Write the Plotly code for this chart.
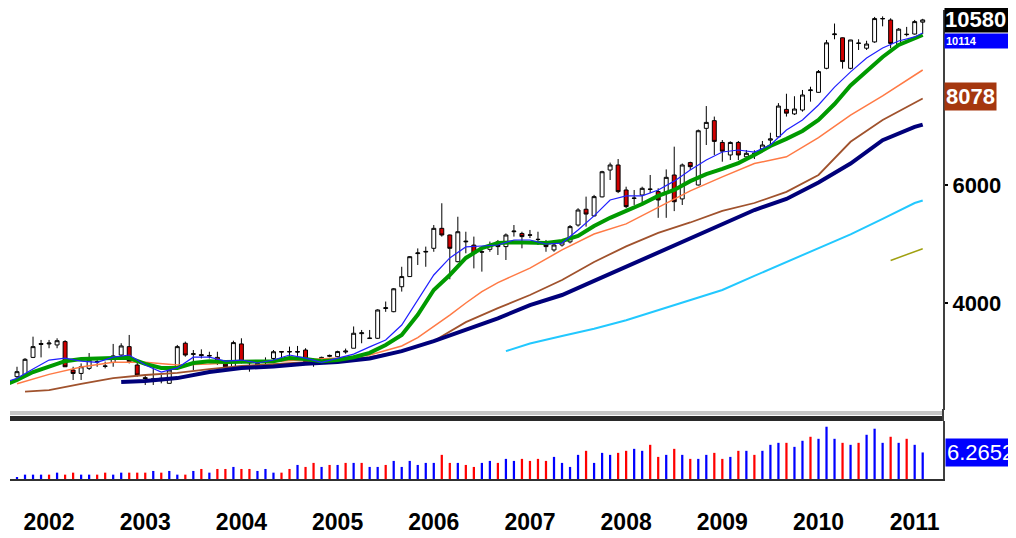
import math
import plotly.graph_objects as go

# ---------------- data ----------------
# monthly candles, index 0 = Sep 2001 ... 113 = Feb 2011
idx = list(range(114))
opens = [3105, 3123, 3318, 3480, 3475, 3463, 3503, 3177, 3140, 3195,
         3265, 3222, 3260, 3345, 3443, 3232, 3095, 3082, 3088, 3035,
         3206, 3483, 3352, 3350, 3340, 3318, 3243, 3213, 3475, 3262,
         3250, 3268, 3306, 3385, 3380, 3385, 3403, 3268, 3280, 3330,
         3326, 3380, 3424, 3600, 3540, 3543, 3925, 3882, 4230, 4380,
         4740, 4765, 4827, 5170, 5053, 4610, 4935, 4880, 4770, 4810,
         4935, 4855, 5110, 5080, 5055, 4980, 4935, 4800, 4882, 4935,
         5229, 5520, 5395, 5760, 6317, 6427, 5898, 5730, 5797, 5910,
         5865, 5845, 6210, 5720, 6480, 6000, 7290, 7485, 6945, 6652,
         6945, 6610, 6680, 6790, 7000, 7080, 7780, 7660, 7764, 8300,
         8250, 8960, 10060, 9950, 8960, 9760, 9600, 9810, 10620, 10578,
         9707, 10060, 10080, 10500]
highs = [3213, 3310, 3563, 3523, 3523, 3543, 3520, 3213, 3250, 3368,
         3306, 3270, 3475, 3483, 3584, 3288, 3123, 3213, 3123, 3195,
         3463, 3503, 3403, 3411, 3383, 3383, 3270, 3514, 3543, 3288,
         3270, 3318, 3403, 3385, 3443, 3451, 3424, 3306, 3326, 3350,
         3395, 3420, 3690, 3646, 3646, 3915, 4020, 4210, 4530, 4700,
         4825, 4855, 5229, 5635, 5060, 5380, 5110, 5025, 4855, 4940,
         4967, 5080, 5229, 5110, 5141, 5110, 4967, 4910, 4967, 5229,
         5540, 5765, 5800, 6300, 6480, 6560, 5965, 5898, 5965, 6210,
         5932, 6330, 6845, 6460, 6500, 7260, 7870, 7590, 7003, 6970,
         6980, 6767, 6760, 6980, 7180, 7950, 8210, 8140, 8317, 8410,
         8908, 9876, 10450, 9960, 9880, 9900, 9850, 10690, 10710, 10640,
         10290, 10330, 10580, 10620]
lows = [3088, 3115, 3310, 3318, 3424, 3424, 3213, 3070, 3070, 3177,
        3213, 3195, 3213, 3335, 3250, 3105, 3018, 3018, 3035, 3035,
        3195, 3326, 3177, 3306, 3306, 3232, 3195, 3195, 3250, 3159,
        3213, 3232, 3288, 3270, 3318, 3335, 3250, 3213, 3270, 3320,
        3320, 3360, 3424, 3483, 3535, 3535, 3880, 3875, 4160, 4375,
        4558, 4530, 4770, 5025, 4340, 4600, 4745, 4505, 4455, 4770,
        4717, 4637, 5025, 4827, 5000, 4882, 4770, 4770, 4855, 4910,
        5200, 5200, 5390, 5750, 6104, 5835, 5540, 5602, 5635, 5835,
        5360, 5360, 5485, 5602, 6317, 5990, 6884, 6652, 6500, 6538,
        6538, 6560, 6560, 6720, 6884, 7060, 7590, 7631, 7720, 7990,
        8240, 8930, 9900, 8950, 8930, 9542, 9542, 9780, 10350, 9600,
        9690, 10000, 10060, 10080]
closes = [3159, 3296, 3443, 3470, 3485, 3514, 3213, 3140, 3213, 3288,
          3270, 3218, 3335, 3451, 3270, 3123, 3085, 3077, 3063, 3177,
          3443, 3345, 3360, 3340, 3335, 3250, 3213, 3491, 3270, 3258,
          3222, 3272, 3383, 3380, 3385, 3380, 3270, 3262, 3318, 3340,
          3385, 3390, 3605, 3610, 3545, 3905, 3935, 4200, 4380, 4690,
          4750, 4775, 5170, 5053, 4827, 5110, 4945, 4745, 4765, 4880,
          4855, 5053, 5120, 5025, 5050, 4975, 4855, 4882, 4935, 5200,
          5506, 5430, 5765, 6280, 6427, 5865, 5570, 5735, 5932, 5915,
          5699, 6160, 5665, 6427, 6390, 7230, 7440, 6970, 6740, 6945,
          6652, 6690, 6690, 6884, 7030, 7870, 7680, 7790, 8175, 8317,
          8860, 9780, 10080, 9170, 9876, 9770, 9740, 10630, 10630, 9760,
          10250, 10070, 10520, 10580]

volume = [0.47, 1.03, 1.03, 1.03, 1.03, 1.50, 1.03, 1.50, 1.03, 1.03,
          1.03, 1.50, 1.03, 1.50, 1.50, 1.50, 1.50, 1.90, 1.50, 1.90,
          1.03, 1.03, 1.90, 2.37, 1.50, 2.37, 2.37, 2.85, 2.37, 2.37,
          1.90, 2.37, 1.50, 1.50, 2.37, 3.32, 2.85, 3.80, 2.85, 3.32,
          3.32, 3.80, 3.80, 3.80, 2.85, 2.85, 3.32, 4.27, 2.85, 4.27,
          3.32, 3.80, 3.80, 5.70, 3.80, 3.80, 3.32, 2.85, 3.80, 4.27,
          3.80, 4.75, 4.27, 4.75, 4.27, 4.75, 4.27, 5.22, 3.80, 2.85,
          5.70, 6.65, 3.80, 6.17, 5.70, 6.17, 6.65, 7.12, 6.65, 8.07,
          5.22, 5.70, 7.12, 5.70, 4.75, 4.75, 5.70, 6.17, 4.75, 5.22,
          6.65, 6.65, 5.70, 6.65, 8.07, 8.54, 8.54, 7.59, 9.02, 9.97,
          9.49, 12.34, 9.49, 8.54, 8.07, 8.54, 10.44, 11.87, 8.54, 9.97,
          8.54, 9.49, 8.07, 6.2652]
# 1 = blue bar, 0 = red bar
vol_dir = [1, 1, 1, 1, 0, 1, 0, 0, 1, 1,
           0, 0, 1, 1, 0, 0, 0, 1, 0, 1,
           1, 0, 1, 0, 1, 0, 0, 1, 0, 0,
           1, 1, 1, 0, 0, 1, 0, 0, 1, 0,
           1, 0, 1, 0, 1, 1, 0, 1, 1, 1,
           1, 1, 1, 0, 0, 1, 0, 0, 1, 1,
           0, 1, 1, 0, 0, 0, 0, 1, 1, 1,
           1, 0, 1, 1, 1, 0, 0, 1, 1, 0,
           0, 1, 0, 1, 0, 1, 1, 0, 0, 1,
           0, 1, 0, 1, 1, 1, 0, 1, 1, 0,
           1, 1, 1, 0, 1, 0, 1, 1, 1, 0,
           1, 0, 1, 1]

# moving-average lines, read at sample months
ma_blue_x = [-1, 0, 2, 4, 6, 8, 10, 12, 14, 16, 18, 20, 22, 24, 26, 28, 30, 32, 34, 36, 38,
             40, 42, 44, 46, 48, 50, 52, 54, 56, 58, 60, 62, 64, 66, 68, 70, 72, 74, 76,
             78, 80, 82, 84, 86, 88, 90, 92, 94, 96, 98, 100, 102, 104, 106, 108, 110, 112, 113]
ma_blue_y = [3060, 3088, 3188, 3288, 3310, 3275, 3262, 3320, 3345, 3232, 3155, 3200, 3320, 3320,
             3275, 3288, 3255, 3288, 3345, 3310, 3262, 3310, 3355, 3440, 3523, 3708, 4041, 4404,
             4670, 4850, 4865, 4882, 4967, 4967, 4899, 4915, 5141, 5395, 5699, 5780, 5780, 5898,
             6080, 6317, 6538, 6720, 6767, 6720, 6884, 7249, 7502, 7898, 8400, 8850, 9280, 9608,
             9840, 9980, 10114]
ma_green_x = ma_blue_x
ma_green_y = [3035, 3070, 3155, 3220, 3275, 3300, 3310, 3310, 3310, 3245, 3200, 3200, 3255, 3275,
              3265, 3265, 3265, 3275, 3310, 3300, 3275, 3288, 3320, 3370, 3463, 3584, 3840, 4183,
              4404, 4670, 4830, 4915, 4930, 4915, 4915, 4950, 5035, 5210, 5360, 5490, 5620, 5780,
              5898, 6080, 6230, 6340, 6470, 6652, 6860, 7030, 7225, 7502, 7925, 8445, 8878, 9315,
              9707, 9940, 10047]
ma_orange_x = [0, 4, 8, 12, 16, 20, 24, 28, 32, 36, 40, 44, 48, 50, 52, 54, 56, 58, 60, 64,
               68, 72, 76, 80, 84, 88, 92, 96, 100, 104, 108, 113]
ma_orange_y = [3030, 3130, 3210, 3262, 3262, 3232, 3243, 3262, 3272, 3288, 3310, 3345, 3450, 3550,
               3690, 3838, 4000, 4160, 4290, 4510, 4800, 5070, 5250, 5560, 5880, 6170, 6460, 6610,
               7060, 7631, 8150, 8908]
ma_brown_x = [1, 4, 8, 12, 16, 20, 24, 28, 32, 36, 40, 44, 48, 52, 56, 60, 64, 68, 72, 76,
              80, 84, 88, 92, 96, 100, 104, 108, 113]
ma_brown_y = [2950, 2965, 3030, 3090, 3123, 3145, 3188, 3222, 3243, 3265, 3288, 3320, 3390, 3510,
              3745, 3930, 4111, 4329, 4605, 4860, 5090, 5275, 5490, 5640, 5860, 6210, 6960, 7500,
              8078]
ma_navy_x = [13, 16, 20, 24, 28, 32, 36, 40, 44, 48, 52, 56, 60, 64, 68, 72, 76, 80, 84, 88,
             92, 96, 100, 104, 108, 112, 113]
ma_navy_y = [3050, 3060, 3090, 3155, 3200, 3215, 3245, 3265, 3305, 3390, 3508, 3646, 3795, 3972,
             4111, 4315, 4530, 4765, 4985, 5247, 5506, 5720, 6050, 6460, 7000, 7325, 7385]
ma_cyan_x = [61, 64, 68, 72, 76, 80, 84, 88, 92, 96, 100, 104, 108, 112, 113]
ma_cyan_y = [3390, 3480, 3570, 3660, 3770, 3905, 4035, 4183, 4390, 4605, 4830, 5065, 5340, 5640, 5690]
ma_olive_x = [109, 111, 113]
ma_olive_y = [4630, 4720, 4820]

year_pos = [4, 16, 28, 40, 52, 64, 76, 88, 100, 112]
year_txt = ["2002", "2003", "2004", "2005", "2006", "2007", "2008", "2009", "2010", "2011"]

price_ticks = [4000, 6000]
last_close_label = "10580"
blue_ma_label = "10114"
brown_ma_label = "8078"
volume_label = "6.2652"

# ---------------- geometry ----------------
# the page body adds an 8px offset, so the figure is sized for the visible window
OFF = 8
W, H = 1016 - OFF, 538 - OFF
PLOT_L, PLOT_R, PLOT_T, PLOT_B = 10, 943, 10, 479      # window pixels
L_M, R_M = PLOT_L - OFF, W - (PLOT_R - OFF)
T_M, B_M = PLOT_T - OFF, H - (PLOT_B - OFF)
PH = PLOT_B - PLOT_T


def py(pix):  # window pixel row -> paper y
    return (PLOT_B - pix) / PH


FONT = "Liberation Sans, Arial, sans-serif"

fig = go.Figure()

lines = [
    (ma_cyan_x, ma_cyan_y, "#22c8ff", 2),
    (ma_olive_x, ma_olive_y, "#a0a010", 1.5),
    (ma_brown_x, ma_brown_y, "#a0522d", 1.8),
    (ma_orange_x, ma_orange_y, "#ff7a45", 1.5),
    (ma_navy_x, ma_navy_y, "#00007a", 4),
    (ma_green_x, ma_green_y, "#009a00", 4),
    (ma_blue_x, ma_blue_y, "#2020ff", 1.2),
]
for xs, ys, col, w in lines:
    fig.add_trace(go.Scatter(x=xs, y=ys, mode="lines", line=dict(color=col, width=w),
                             xaxis="x", yaxis="y", showlegend=False, hoverinfo="skip"))

fig.add_trace(go.Candlestick(
    x=idx, open=opens, high=highs, low=lows, close=closes,
    increasing=dict(line=dict(color="black", width=1), fillcolor="white"),
    decreasing=dict(line=dict(color="black", width=1), fillcolor="#d00000"),
    whiskerwidth=0, xaxis="x", yaxis="y", showlegend=False))

fig.add_trace(go.Bar(
    x=idx, y=volume, width=0.28,
    marker=dict(color=["#0000ff" if d else "#ff0000" for d in vol_dir], line=dict(width=0)),
    xaxis="x2", yaxis="y2", showlegend=False))

xr = [(PLOT_L - 17) / 8.015, (PLOT_R - 17) / 8.015]
lo_pix, hi_pix = 410, 10


def price_at(pix):
    return 6000 * math.exp((185 - pix) / 291)


fig.update_layout(
    width=W, height=H,
    margin=dict(l=L_M, r=R_M, t=T_M, b=B_M, autoexpand=False),
    paper_bgcolor="white", plot_bgcolor="white",
    showlegend=False,
    boxgap=0.3,
    xaxis=dict(domain=[0, 1], range=xr, showticklabels=False, showgrid=False, zeroline=False,
               showline=False, ticks="", anchor="y", rangeslider=dict(visible=False)),
    yaxis=dict(domain=[py(lo_pix), 1], type="log",
               range=[math.log10(price_at(lo_pix)), math.log10(price_at(hi_pix))],
               side="right", showgrid=False, zeroline=False, showline=True,
               linecolor="#404040", linewidth=2, ticks="outside", ticklen=3, tickwidth=2,
               tickcolor="black", tickvals=price_ticks, ticktext=[str(v) for v in price_ticks],
               tickfont=dict(family=FONT, size=22, color="black", weight="bold"), anchor="x"),
    xaxis2=dict(domain=[0, 1], range=xr, anchor="y2", showgrid=False, zeroline=False,
                showline=True, linecolor="#303030", linewidth=2, ticks="",
                tickvals=year_pos, ticktext=year_txt, ticklabelstandoff=21,
                tickfont=dict(family=FONT, size=23, color="black", weight="bold")),
    yaxis2=dict(domain=[0, py(421)], range=[0, (478.7 - 421) / 4.214], side="right",
                showgrid=False, zeroline=False, showline=True, linecolor="#404040",
                linewidth=2, showticklabels=False, ticks="", anchor="x2"),
)

shapes = [
    dict(type="rect", xref="paper", yref="paper", x0=0, x1=1, y0=py(415), y1=py(411),
         fillcolor="#c8c8c8", line=dict(width=0), layer="above"),
    dict(type="rect", xref="paper", yref="paper", x0=0, x1=1, y0=py(421), y1=py(416),
         fillcolor="#2a2a2a", line=dict(width=0), layer="above"),
    dict(type="line", xref="paper", yref="paper", x0=1, x1=1, y0=py(421), y1=py(409),
         line=dict(color="#404040", width=2)),
]
fig.update_layout(shapes=shapes)

lab_font = dict(family=FONT, size=22, color="white", weight="bold")
annos = [
    # blue MA value box, tucked under the last-price box
    dict(text=blue_ma_label, x=1, xref="paper", xanchor="left", xshift=1,
         y=py(33), yref="paper", yanchor="top",
         bgcolor="#0000ff", font=dict(family=FONT, size=11, color="white", weight="bold"),
         showarrow=False, borderpad=1, width=68, height=12, align="left"),
    dict(text=last_close_label, x=1, xref="paper", xanchor="left", xshift=1,
         y=math.log10(float(last_close_label)), yref="y", yanchor="middle",
         bgcolor="black", font=lab_font, showarrow=False, borderpad=0, width=68, align="left"),
    dict(text=brown_ma_label, x=1, xref="paper", xanchor="left", xshift=1,
         y=math.log10(float(brown_ma_label)), yref="y", yanchor="middle", yshift=2,
         bgcolor="#a5370f", font=lab_font, showarrow=False, borderpad=1),
    dict(text=volume_label, x=1, xref="paper", xanchor="left", xshift=2,
         y=float(volume_label), yref="y2", yanchor="middle",
         bgcolor="#0000ff", font=dict(family=FONT, size=22, color="white"),
         showarrow=False, borderpad=1, width=68, align="left"),
]
fig.update_layout(annotations=annos)

fig.write_html("out.html")
